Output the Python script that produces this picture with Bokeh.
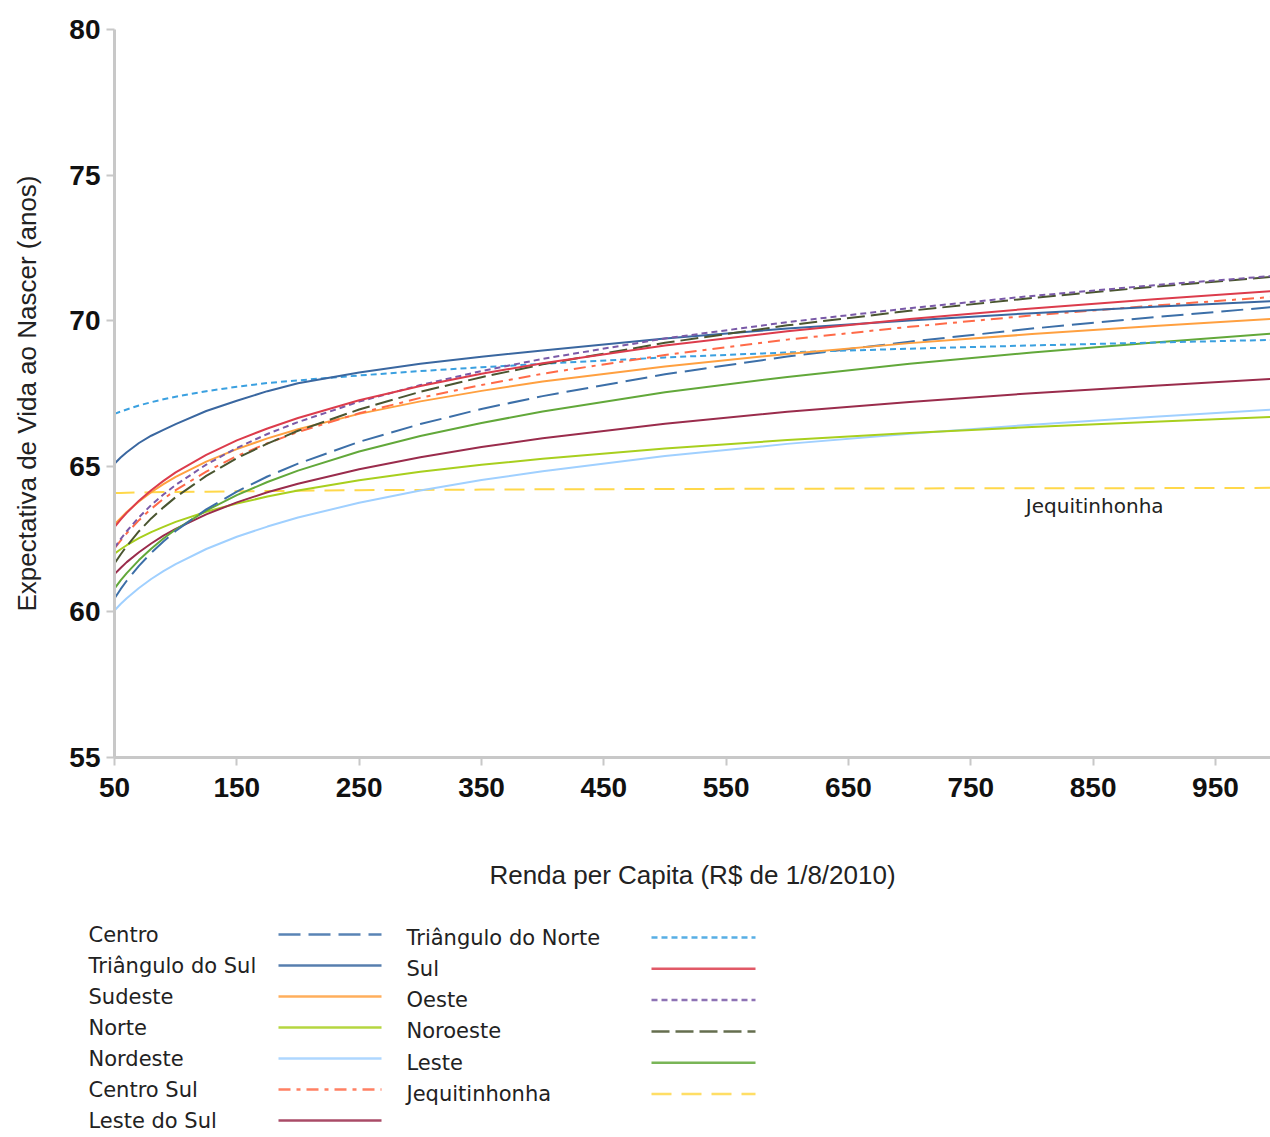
from bokeh.plotting import figure
from bokeh.models import Range1d, FixedTicker, Label
from bokeh.embed import file_html
from bokeh.resources import INLINE
from bokeh.core.properties import value

# ---------------- data ----------------
renda = [50, 55, 60, 70, 80, 90, 100, 125, 150, 175, 200, 250, 300, 350, 400, 500, 600, 700, 800, 900, 995]

centro = [60.46, 60.78, 61.07, 61.58, 62.03, 62.42, 62.78, 63.52, 64.13, 64.65, 65.09, 65.84, 66.45, 66.97, 67.41, 68.16, 68.77, 69.28, 69.73, 70.12, 70.46]
triangulo_sul = [65.09, 65.30, 65.48, 65.80, 66.05, 66.25, 66.45, 66.90, 67.25, 67.58, 67.85, 68.22, 68.52, 68.76, 68.98, 69.39, 69.73, 70.01, 70.26, 70.48, 70.67]
sudeste = [63.00, 63.22, 63.43, 63.79, 64.11, 64.39, 64.64, 65.16, 65.59, 65.96, 66.27, 66.80, 67.23, 67.59, 67.91, 68.43, 68.86, 69.23, 69.54, 69.82, 70.06]
norte = [62.00, 62.15, 62.29, 62.53, 62.74, 62.92, 63.09, 63.44, 63.72, 63.96, 64.17, 64.52, 64.81, 65.05, 65.26, 65.61, 65.90, 66.14, 66.35, 66.53, 66.69]
nordeste = [60.05, 60.27, 60.47, 60.82, 61.13, 61.40, 61.64, 62.16, 62.58, 62.93, 63.24, 63.75, 64.17, 64.53, 64.83, 65.35, 65.77, 66.12, 66.43, 66.70, 66.94]
centro_sul = [62.18, 62.45, 62.70, 63.15, 63.54, 63.88, 64.18, 64.82, 65.35, 65.79, 66.18, 66.82, 67.35, 67.79, 68.18, 68.82, 69.35, 69.79, 70.18, 70.52, 70.81]
leste_sul = [61.30, 61.51, 61.71, 62.05, 62.35, 62.62, 62.85, 63.35, 63.76, 64.11, 64.40, 64.90, 65.31, 65.66, 65.96, 66.46, 66.87, 67.21, 67.51, 67.77, 68.00]
triangulo_norte = [66.80, 66.88, 66.95, 67.09, 67.20, 67.30, 67.39, 67.58, 67.73, 67.86, 67.95, 68.12, 68.27, 68.40, 68.52, 68.74, 68.91, 69.04, 69.15, 69.25, 69.34]
sul = [62.91, 63.17, 63.40, 63.82, 64.18, 64.50, 64.79, 65.39, 65.89, 66.30, 66.66, 67.27, 67.76, 68.18, 68.54, 69.15, 69.64, 70.06, 70.42, 70.74, 71.01]
oeste = [62.20, 62.50, 62.77, 63.25, 63.67, 64.03, 64.36, 65.06, 65.63, 66.11, 66.52, 67.22, 67.79, 68.27, 68.69, 69.39, 69.95, 70.43, 70.85, 71.22, 71.53]
noroeste = [61.66, 61.97, 62.26, 62.77, 63.21, 63.59, 63.94, 64.67, 65.28, 65.78, 66.22, 66.95, 67.56, 68.06, 68.50, 69.24, 69.84, 70.34, 70.78, 71.17, 71.50]
leste = [60.80, 61.08, 61.33, 61.78, 62.17, 62.52, 62.83, 63.48, 64.01, 64.46, 64.85, 65.51, 66.04, 66.49, 66.88, 67.54, 68.07, 68.52, 68.91, 69.25, 69.55]
jequitinhonha = [64.08, 64.085, 64.09, 64.10, 64.11, 64.115, 64.12, 64.13, 64.14, 64.15, 64.16, 64.18, 64.19, 64.20, 64.21, 64.22, 64.23, 64.24, 64.25, 64.25, 64.26]

x_ticks = [50, 150, 250, 350, 450, 550, 650, 750, 850, 950]
y_ticks = [55, 60, 65, 70, 75, 80]

series_col1 = ["Centro", "Triângulo do Sul", "Sudeste", "Norte", "Nordeste", "Centro Sul", "Leste do Sul"]
series_col2 = ["Triângulo do Norte", "Sul", "Oeste", "Noroeste", "Leste", "Jequitinhonha"]

values = {
    "Centro": centro, "Triângulo do Sul": triangulo_sul, "Sudeste": sudeste,
    "Norte": norte, "Nordeste": nordeste, "Centro Sul": centro_sul,
    "Leste do Sul": leste_sul, "Triângulo do Norte": triangulo_norte, "Sul": sul,
    "Oeste": oeste, "Noroeste": noroeste, "Leste": leste, "Jequitinhonha": jequitinhonha,
}

styles = {
    "Centro": ("#3c6fa8", "22 8"),
    "Triângulo do Sul": ("#3a67a0", "solid"),
    "Sudeste": ("#ffa040", "solid"),
    "Norte": ("#a8cf1e", "solid"),
    "Nordeste": ("#a0d0ff", "solid"),
    "Centro Sul": ("#ff6a48", "12 6 4 6"),
    "Leste do Sul": ("#9a2c4c", "solid"),
    "Triângulo do Norte": ("#3aa0e0", "6 4"),
    "Sul": ("#dc3c4c", "solid"),
    "Oeste": ("#7a5aa8", "6 4"),
    "Noroeste": ("#4a5530", "18 6"),
    "Leste": ("#62a83a", "solid"),
    "Jequitinhonha": ("#ffd84a", "20 10"),
}

# ---------------- main chart ----------------
main_h = 896
p = figure(width=1270, height=main_h, output_backend="svg", toolbar_location=None,
           x_range=Range1d(50, 995), y_range=Range1d(55, 80),
           min_border_left=114, min_border_right=0, min_border_top=29,
           min_border_bottom=main_h - 757)
p.outline_line_color = None
p.xgrid.visible = False
p.ygrid.visible = False

draw_order = ["Jequitinhonha", "Nordeste", "Norte", "Leste do Sul", "Leste", "Centro",
              "Triângulo do Norte", "Sudeste", "Centro Sul", "Triângulo do Sul",
              "Noroeste", "Oeste", "Sul"]
for name in draw_order:
    color, dash = styles[name]
    p.line(renda, values[name], line_color=color, line_width=2, line_dash=dash)

p.add_layout(Label(x=795, y=63.62, text="Jequitinhonha", text_baseline="middle",
                   text_font="DejaVu Sans", text_font_size="20px", text_color="#222222"))

for ax in (p.xaxis[0], p.yaxis[0]):
    ax.axis_line_color = "#c8c8c8"
    ax.axis_line_width = 3
    ax.major_tick_line_color = "#c8c8c8"
    ax.major_tick_line_width = 2
    ax.major_tick_out = 8
    ax.major_tick_in = 0
    ax.minor_tick_line_color = None
    ax.major_label_text_font = "Liberation Sans"
    ax.major_label_text_font_style = "bold"
    ax.major_label_text_font_size = "28px"
    ax.major_label_text_color = "#111111"
    ax.axis_label_text_font = "Liberation Sans"
    ax.axis_label_text_font_style = "normal"
    ax.axis_label_text_font_size = "26px"
    ax.axis_label_text_color = "#222222"

p.xaxis.ticker = FixedTicker(ticks=x_ticks)
p.yaxis.ticker = FixedTicker(ticks=y_ticks)
p.xaxis.axis_label = "Renda per Capita (R$ de 1/8/2010)"
p.yaxis.axis_label = "Expectativa de Vida ao Nascer (anos)"
p.xaxis.major_label_standoff = 12
p.yaxis.major_label_standoff = 6
p.xaxis.axis_label_standoff = 60
p.yaxis.axis_label_standoff = 24

# ---------------- legend area (separate root, page-pixel coordinates) ----------------
leg_h = 1137 - main_h
leg = figure(width=1270, height=leg_h, output_backend="svg", toolbar_location=None,
             x_range=Range1d(0, 1270), y_range=Range1d(leg_h, 0), min_border=0)
leg.outline_line_color = None
leg.axis.visible = False
leg.xgrid.visible = False
leg.ygrid.visible = False

col_specs = [(series_col1, 88, 278, 381, 38, 31.0), (series_col2, 406, 651, 755, 41, 31.3)]
for names, tx, sx0, sx1, y0, gap in col_specs:
    ys = [y0 + gap * i for i in range(len(names))]
    leg.text(x=[tx] * len(names), y=ys, text=names, text_baseline="middle",
             text_font=value("DejaVu Sans"), text_font_size="21px", text_color="#222222")
    for name, yy in zip(names, ys):
        color, dash = styles[name]
        leg.line([sx0, sx1], [yy, yy], line_color=color, line_width=2.5,
                 line_dash=dash, line_alpha=0.85)

open("out.html", "w").write(file_html([p, leg], INLINE))
